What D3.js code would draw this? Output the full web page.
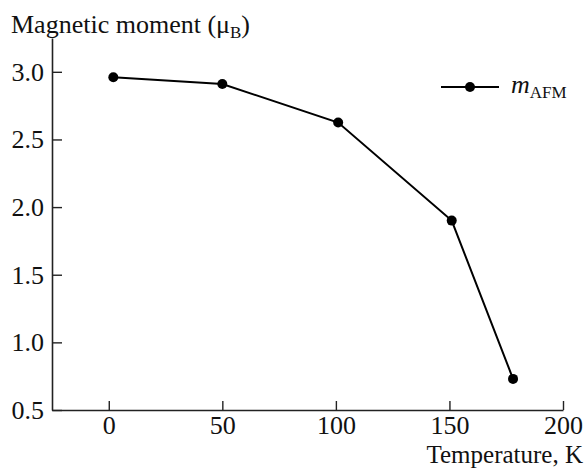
<!DOCTYPE html>
<html>
<head>
<meta charset="utf-8">
<script src="https://cdn.jsdelivr.net/npm/d3@7"></script>
<style>
  html, body { margin: 0; padding: 0; background: #fff; }
  svg text { font-family: "Liberation Serif", "Times New Roman", serif; fill: #111; }
</style>
</head>
<body>
<svg id="chart" width="584" height="468"></svg>
<script>
// Antiferromagnetic moment versus temperature
const temperature = [2, 50, 101, 151, 178];
const momentAFM = [2.96, 2.91, 2.625, 1.90, 0.73];
const xTicks = [0, 50, 100, 150, 200];
const yTicks = [0.5, 1.0, 1.5, 2.0, 2.5, 3.0];

const svg = d3.select("#chart");
const fontSize = 26;
const subSize = 17;

const x = d3.scaleLinear().domain([-25, 200]).range([52, 563]);
const y = d3.scaleLinear().domain([0.5, 3.25]).range([410, 38]);

// Axes with inward ticks
const xAxis = d3.axisBottom(x)
  .tickValues(xTicks)
  .tickFormat(d3.format("d"))
  .tickSizeInner(-9)
  .tickSizeOuter(0)
  .tickPadding(6);

const yAxis = d3.axisLeft(y)
  .tickValues(yTicks)
  .tickFormat(d3.format(".1f"))
  .tickSizeInner(-10)
  .tickSizeOuter(0)
  .tickPadding(8);

const gx = svg.append("g").attr("transform", `translate(0,${y(0.5)})`).call(xAxis);
const gy = svg.append("g").attr("transform", `translate(${x(-25)},0)`).call(yAxis);

[gx, gy].forEach(g => {
  g.attr("font-family", null).attr("font-size", null);
  g.select(".domain").attr("stroke", "#222").attr("stroke-width", 1.6);
  g.selectAll(".tick line").attr("stroke", "#222").attr("stroke-width", 1.4);
  g.selectAll(".tick text")
    .style("font-family", '"Liberation Serif", "Times New Roman", serif')
    .style("font-size", fontSize + "px")
    .attr("fill", "#111");
});

// Axis titles
const yTitle = svg.append("text")
  .attr("x", 11)
  .attr("y", 33)
  .attr("font-size", fontSize);
yTitle.append("tspan").text("Magnetic moment (μ");
yTitle.append("tspan").attr("font-size", subSize).attr("dy", 5).text("B");
yTitle.append("tspan").attr("dy", -5).text(")");

svg.append("text")
  .attr("x", 583)
  .attr("y", 462.5)
  .attr("text-anchor", "end")
  .attr("font-size", 25)
  .text("Temperature, K");

// Data line and markers
const pts = temperature.map((t, i) => [t, momentAFM[i]]);
const line = d3.line().x(d => x(d[0])).y(d => y(d[1]));

svg.append("path")
  .datum(pts)
  .attr("d", line)
  .attr("fill", "none")
  .attr("stroke", "#000")
  .attr("stroke-width", 2);

svg.selectAll("circle.pt")
  .data(pts)
  .join("circle")
  .attr("class", "pt")
  .attr("cx", d => x(d[0]))
  .attr("cy", d => y(d[1]))
  .attr("r", 5)
  .attr("fill", "#000");

// Legend
const legend = svg.append("g").attr("transform", "translate(441,87)");
legend.append("line")
  .attr("x1", 0).attr("x2", 58)
  .attr("y1", 0).attr("y2", 0)
  .attr("stroke", "#000").attr("stroke-width", 2);
legend.append("circle").attr("cx", 29).attr("cy", 0).attr("r", 5).attr("fill", "#000");
const lt = legend.append("text").attr("x", 70).attr("y", 6).attr("font-size", fontSize);
lt.append("tspan").attr("font-style", "italic").text("m");
lt.append("tspan").attr("font-size", subSize).attr("dy", 5).text("AFM");
</script>
</body>
</html>
